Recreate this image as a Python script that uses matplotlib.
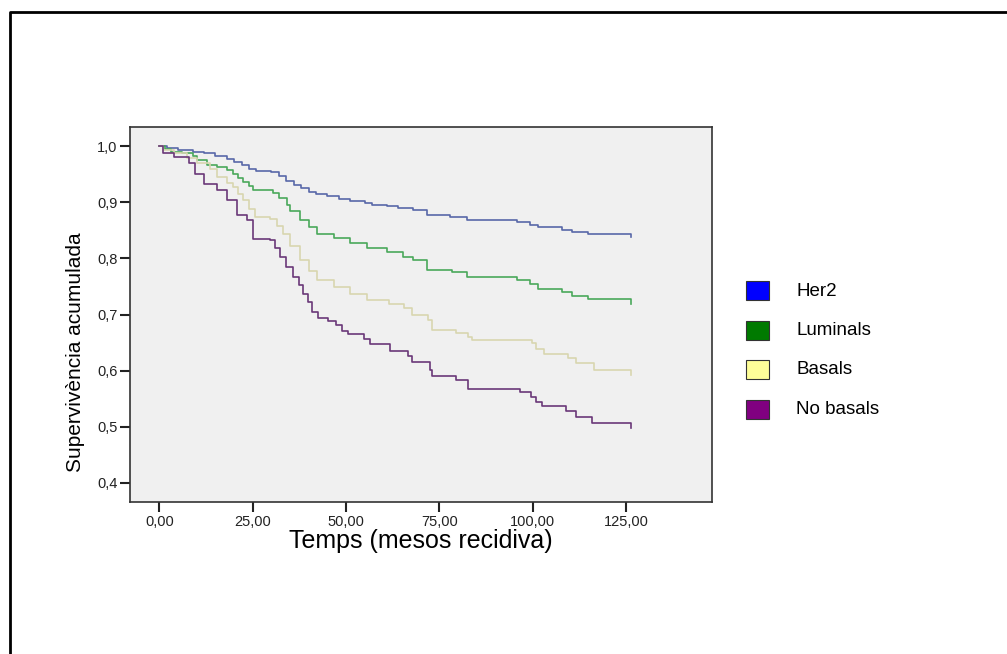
import matplotlib
matplotlib.use("Agg")
import matplotlib.pyplot as plt
from matplotlib.patches import Rectangle
from matplotlib.lines import Line2D
from matplotlib.ticker import FuncFormatter

plt.rcParams['font.family'] = ['Liberation Sans', 'DejaVu Sans']

# Kaplan-Meier steps (time in months, cumulative survival)
her2_t = [0, 2, 5, 9, 12, 15, 18, 20, 22, 24, 26, 30, 32, 34, 36, 38, 40, 42, 45, 48, 51, 55, 57, 61,
          64, 68, 71.6, 78, 82.3, 95.7, 99.3, 101.5, 107.8, 110.5, 114.8, 126.4]
her2_s = [1.0, 0.996, 0.993, 0.990, 0.987, 0.982, 0.977, 0.972, 0.966, 0.960, 0.955, 0.953, 0.946, 0.938,
          0.931, 0.925, 0.919, 0.914, 0.911, 0.906, 0.902, 0.898, 0.895, 0.893, 0.890, 0.886, 0.877, 0.874,
          0.868, 0.864, 0.859, 0.855, 0.851, 0.847, 0.843, 0.838]

lum_t = [0, 1.5, 3, 6, 9, 10, 12.7, 15.4, 18, 19.8, 21, 22.5, 24, 25.1, 30.5, 32, 34.1, 35, 37.7, 40,
         42.2, 46.7, 51.1, 55.5, 60.9, 65.4, 68, 71.6, 78.3, 82.3, 95.7, 99.3, 101.5, 107.8, 110.5, 114.8,
         126.4]
lum_s = [1.0, 0.994, 0.990, 0.987, 0.982, 0.976, 0.967, 0.963, 0.957, 0.951, 0.944, 0.936, 0.929, 0.922,
         0.916, 0.907, 0.895, 0.885, 0.868, 0.855, 0.844, 0.836, 0.827, 0.818, 0.812, 0.803, 0.797, 0.780,
         0.776, 0.767, 0.762, 0.754, 0.746, 0.740, 0.733, 0.727, 0.718]

bas_t = [0, 1, 3.8, 7.3, 10, 13.6, 15.4, 18, 19.8, 21, 22.5, 24, 25.6, 29.7, 31.5, 33.2, 35, 37.7, 40,
         42.2, 46.7, 51.1, 55.5, 61.5, 65.5, 67.7, 71.9, 73, 79.5, 82.7, 83.7, 99.8, 100.9, 103, 109.4,
         111.6, 116.4, 126.4]
bas_s = [1.0, 0.993, 0.987, 0.978, 0.969, 0.960, 0.945, 0.935, 0.927, 0.915, 0.904, 0.888, 0.874, 0.871,
         0.858, 0.844, 0.822, 0.797, 0.778, 0.761, 0.749, 0.737, 0.725, 0.718, 0.711, 0.699, 0.690, 0.673,
         0.667, 0.660, 0.655, 0.649, 0.638, 0.629, 0.622, 0.614, 0.602, 0.593]

nob_t = [0, 1, 3.8, 7.8, 9.6, 11.8, 15.4, 18, 20.7, 23.4, 25.1, 29.7, 31, 32.3, 34, 35.9, 37.3, 38.6,
         39.8, 41, 42.5, 45.2, 47.3, 49, 50.6, 54.8, 56.4, 61.8, 66.6, 67.7, 72.5, 73, 79.5, 82.7, 96.6,
         99.5, 100.8, 102.5, 108.9, 111.6, 115.9, 126.4]
nob_s = [1.0, 0.987, 0.981, 0.969, 0.951, 0.933, 0.922, 0.904, 0.877, 0.868, 0.835, 0.832, 0.818, 0.803,
         0.785, 0.767, 0.752, 0.737, 0.722, 0.705, 0.693, 0.689, 0.681, 0.671, 0.665, 0.657, 0.648, 0.635,
         0.626, 0.616, 0.601, 0.590, 0.583, 0.567, 0.562, 0.553, 0.545, 0.537, 0.528, 0.517, 0.507, 0.498]

labels = ["Her2", "Luminals", "Basals", "No basals"]
line_colors = ["#5868a8", "#4aa85a", "#d8d6b0", "#6a3878"]
patch_colors = ["#0000ff", "#007a00", "#ffff99", "#800080"]

x_ticks = [0, 25, 50, 75, 100, 125]
y_ticks = [0.4, 0.5, 0.6, 0.7, 0.8, 0.9, 1.0]

fig = plt.figure(figsize=(10.07, 6.54), dpi=100)
ax = fig.add_axes([0.1291, 0.2324, 0.5776, 0.5734])
ax.set_facecolor("#f0f0f0")

series = [(her2_t, her2_s), (lum_t, lum_s), (bas_t, bas_s), (nob_t, nob_s)]
for (t, s), c in zip(series, line_colors):
    ax.plot(t, s, drawstyle="steps-post", color=c, lw=1.2)

ax.set_xlim(-7.9, 148)
ax.set_ylim(0.366, 1.034)
ax.set_xticks(x_ticks)
ax.set_yticks(y_ticks)
ax.xaxis.set_major_formatter(FuncFormatter(lambda v, p: f"{v:.2f}".replace(".", ",")))
ax.yaxis.set_major_formatter(FuncFormatter(lambda v, p: f"{v:.1f}".replace(".", ",")))
ax.tick_params(direction="out", length=7, width=1.5, labelsize=10.5, colors="#222222", pad=2)
for sp in ax.spines.values():
    sp.set_color("#333333")
    sp.set_linewidth(1.2)

ax.set_xlabel("Temps (mesos recidiva)", fontsize=18, labelpad=0)
ax.set_ylabel("Supervivència acumulada", fontsize=15)
ax.yaxis.set_label_coords(-0.077, 0.40)

# legend drawn as coloured squares in figure pixels
W, H = 1007, 654
for i, (lab, pc) in enumerate(zip(labels, patch_colors)):
    top = 281 + i * 39.5
    fig.patches.append(Rectangle((746 / W, 1 - (top + 19) / H), 23 / W, 19 / H,
                                 transform=fig.transFigure, facecolor=pc,
                                 edgecolor="#333333", lw=0.8))
    fig.text(796 / W, 1 - (top + 10) / H, lab, fontsize=13.5, va="center", ha="left")

# outer frame (left and top edges)
fig.add_artist(Line2D([10 / W, 10 / W, 1.0], [0.0, 1 - 12 / H, 1 - 12 / H],
                      transform=fig.transFigure, color="black", lw=2))

fig.savefig("out.png", dpi=100)
